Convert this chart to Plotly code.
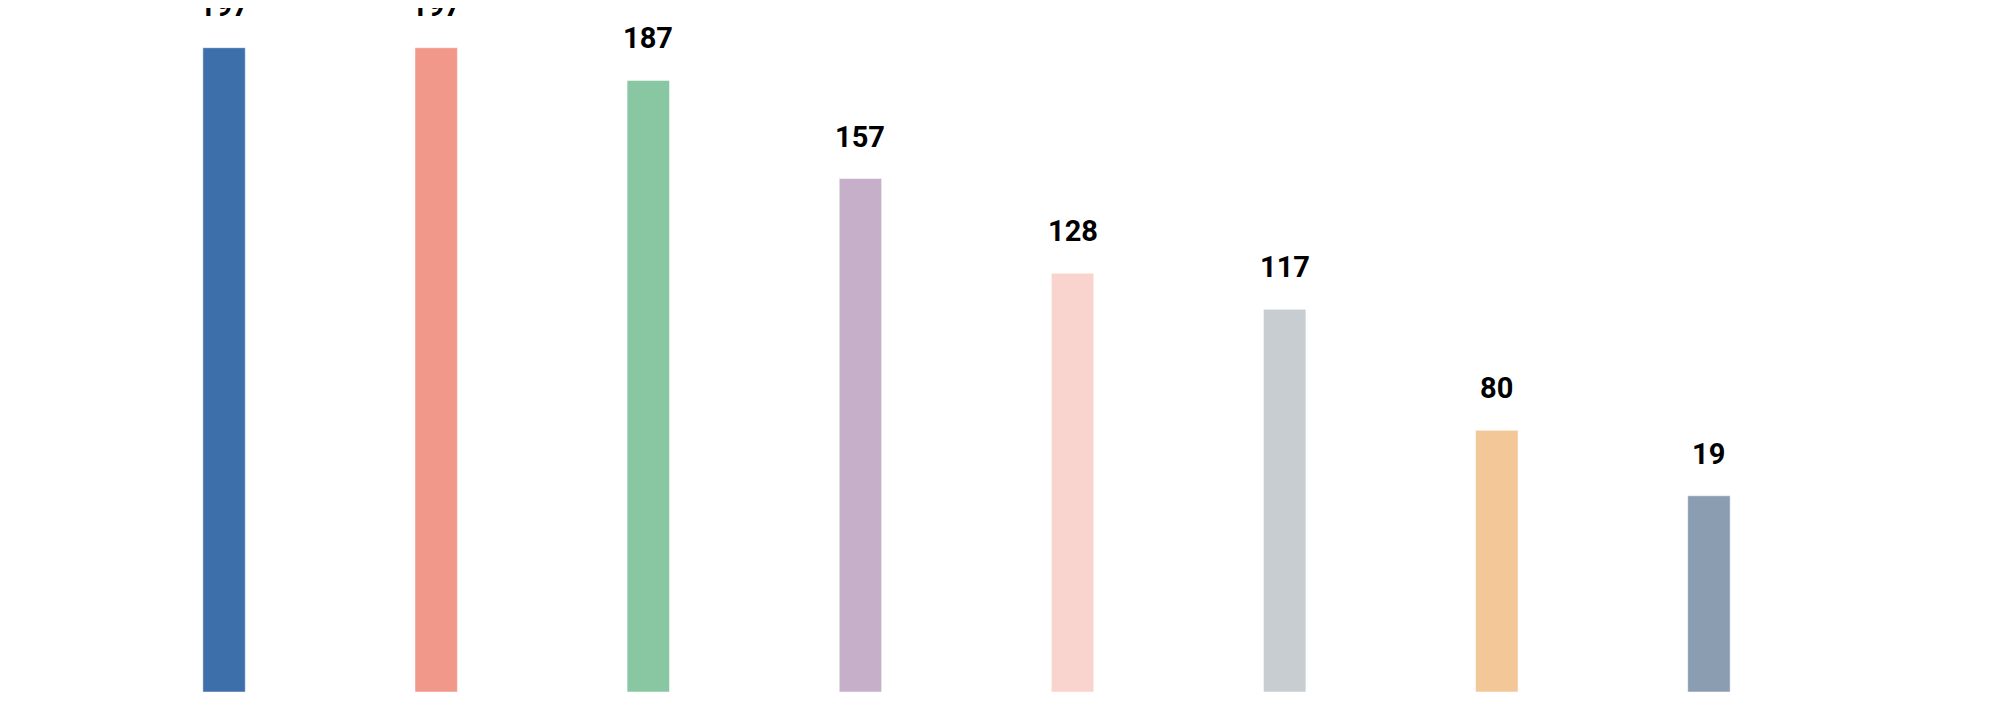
"""
막대 차트 재현

8개 항목 값 막대 + 상단 라벨
"""

import plotly.graph_objects as go

categories = ['A', 'B', 'C', 'D', 'E', 'F', 'G', 'H']
values = [197, 197, 187, 157, 128, 117, 80, 60]
labels = ['197', '197', '187', '157', '128', '117', '80', '19']
colors = ['#3D6FAA', '#F2988B', '#88C7A2', '#C6B0C9', '#F9D3CD', '#C8CDD1', '#F3C797', '#8A9DB1']

fig = go.Figure()

fig.add_trace(go.Bar(
    x=categories,
    y=values,
    width=0.2,
    marker=dict(color=colors, line=dict(color='white', width=0.5)),
    hoverinfo='skip',
))

# 막대 위 라벨
for cat, val, lab in zip(categories, values, labels):
    fig.add_annotation(
        x=cat, y=val, text=lab,
        showarrow=False,
        yanchor='bottom',
        yshift=23,
        font=dict(family='Roboto', size=29, color='black', weight=700),
    )

fig.update_layout(
    width=2000,
    height=715,
    template='plotly_white',
    plot_bgcolor='white',
    paper_bgcolor='white',
    showlegend=False,
    margin=dict(l=110, r=193, t=7, b=31),
    xaxis=dict(visible=False, range=[-0.5, 7.5]),
    yaxis=dict(visible=False, range=[0, 207]),
)

fig.write_html("out.html")
